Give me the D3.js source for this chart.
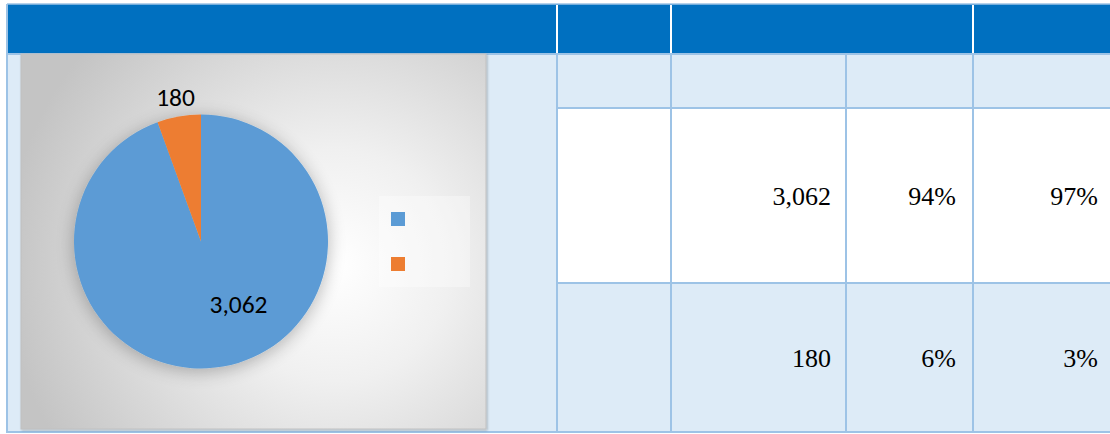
<!DOCTYPE html>
<html><head><meta charset="utf-8">
<script src="https://cdn.jsdelivr.net/npm/d3@7"></script>
<style>html,body{margin:0;padding:0;background:#fff;overflow:hidden}</style>
</head><body><svg id="c" width="1110" height="434"></svg>
<script>
// ---- data ----
const categories = ["", ""];           // legend / row labels (blank in source)
const values = [3062, 180];
const share2 = [0.97, 0.03];
const colors = ["#5B9BD5", "#ED7D31"];

const svg = d3.select("#c");
const fmtN = d3.format(",");
const fmtP = d3.format(".0%");
const total = d3.sum(values);
const SERIF = '"Liberation Serif", "Times New Roman", serif';
const SANS = 'Carlito, "Open Sans", "Liberation Sans", sans-serif';

// ---- table layout ----
const colX = [7, 557, 671, 846, 973, 1120];
const rowY = [4, 54, 108, 283, 432];
const border = "#9DC3E6", head = "#0070C0", light = "#DDEBF7";

// header
svg.append("rect").attr("x", colX[0]).attr("y", rowY[0]).attr("width", 1110 - colX[0]).attr("height", rowY[1] - rowY[0]).attr("fill", head);
svg.append("line").attr("x1", colX[0]).attr("x2", 1110).attr("y1", rowY[0]).attr("y2", rowY[0]).attr("stroke", border).attr("stroke-width", 1.5);
[colX[1], colX[2], colX[4]].forEach(x => {
  svg.append("line").attr("x1", x).attr("x2", x).attr("y1", rowY[0] + 1).attr("y2", rowY[1]).attr("stroke", "#fff").attr("stroke-width", 2);
});
// body left cell
svg.append("rect").attr("x", colX[0]).attr("y", rowY[1]).attr("width", colX[1] - colX[0]).attr("height", rowY[4] - rowY[1]).attr("fill", light);
// body right rows
const rowFill = [light, "#ffffff", light];
for (let r = 0; r < 3; r++) {
  svg.append("rect").attr("x", colX[1]).attr("y", rowY[r + 1]).attr("width", 1110 - colX[1]).attr("height", rowY[r + 2] - rowY[r + 1]).attr("fill", rowFill[r]);
}
// grid lines
const g = svg.append("g").attr("stroke", border).attr("stroke-width", 2);
g.append("line").attr("x1", colX[0]).attr("x2", 1110).attr("y1", rowY[1]).attr("y2", rowY[1]);
[rowY[2], rowY[3]].forEach(y => g.append("line").attr("x1", colX[1]).attr("x2", 1110).attr("y1", y).attr("y2", y));
g.append("line").attr("x1", colX[0]).attr("x2", 1110).attr("y1", rowY[4]).attr("y2", rowY[4]);
g.append("line").attr("x1", colX[0]).attr("x2", colX[0]).attr("y1", rowY[0]).attr("y2", rowY[4] + 1);
colX.slice(1, 5).forEach(x => g.append("line").attr("x1", x).attr("x2", x).attr("y1", rowY[1]).attr("y2", rowY[4]));

// table numbers
const tbl = svg.append("g").style("font-family", SERIF).style("font-size", "26px").attr("fill", "#000").attr("text-anchor", "end");
values.forEach((v, i) => {
  const yc = (rowY[i + 2] + rowY[i + 3]) / 2 + 9;
  tbl.append("text").style("font-family", SERIF).attr("x", colX[3] - 15).attr("y", yc).text(fmtN(v));
  tbl.append("text").style("font-family", SERIF).attr("x", colX[4] - 17).attr("y", yc).text(fmtP(v / total));
  tbl.append("text").style("font-family", SERIF).attr("x", colX[5] - 22).attr("y", yc).text(fmtP(share2[i]));
});

// ---- chart area ----
const defs = svg.append("defs");
const rg = defs.append("radialGradient").attr("id", "bg").attr("gradientUnits", "userSpaceOnUse")
  .attr("cx", 335).attr("cy", 265).attr("r", 330);
rg.append("stop").attr("offset", "0").attr("stop-color", "#ffffff");
rg.append("stop").attr("offset", "0.35").attr("stop-color", "#f0f0f0");
rg.append("stop").attr("offset", "1").attr("stop-color", "#c4c4c4");
const sh = defs.append("filter").attr("id", "sh").attr("x", "-30%").attr("y", "-30%").attr("width", "160%").attr("height", "160%");
sh.append("feGaussianBlur").attr("in", "SourceAlpha").attr("stdDeviation", 9).attr("result", "b");
sh.append("feOffset").attr("dx", 0).attr("dy", 3).attr("result", "o");
sh.append("feComponentTransfer").append("feFuncA").attr("type", "linear").attr("slope", 0.28);
const m = sh.append("feMerge"); m.append("feMergeNode"); m.append("feMergeNode").attr("in", "SourceGraphic");
const csh = defs.append("filter").attr("id", "csh").attr("x", "-5%").attr("y", "-5%").attr("width", "110%").attr("height", "110%");
csh.append("feDropShadow").attr("dx", 1).attr("dy", 1).attr("stdDeviation", 1).attr("flood-opacity", 0.25);

const ca = {x: 21, y: 54, w: 465, h: 375};
svg.append("rect").attr("x", ca.x).attr("y", ca.y).attr("width", ca.w).attr("height", ca.h)
  .attr("fill", "url(#bg)").attr("stroke", "#c0c0c0").attr("stroke-width", 1).attr("filter", "url(#csh)");

// pie
const cx = 201, cy = 241.5, R = 127;
const pie = d3.pie().sort(null).value(d => d)(values);
const arc = d3.arc().innerRadius(0).outerRadius(R);
const pg = svg.append("g").attr("transform", `translate(${cx},${cy})`);
pg.append("g").attr("filter", "url(#sh)").selectAll("path").data(pie).join("path")
  .attr("d", arc).attr("fill", (d, i) => colors[i]);

// data labels
const lab = pg.append("g").style("font-family", SANS).style("font-size", "25.5px").attr("fill", "#000").attr("text-anchor", "middle");
const labelPos = [ {ang: 149.4, rr: 0.58}, {ang: null, rr: 1.155} ];
pie.forEach((d, i) => {
  const a = labelPos[i].ang !== null ? labelPos[i].ang * Math.PI / 180 : (d.startAngle + d.endAngle) / 2;
  const r = labelPos[i].rr * R;
  lab.append("text").attr("x", r * Math.sin(a)).attr("y", -r * Math.cos(a) + 8.5).text(fmtN(d.value));
});

// legend
const lg = svg.append("g");
lg.append("rect").attr("x", 379).attr("y", 196).attr("width", 91).attr("height", 91).attr("fill", "#ffffff").attr("fill-opacity", 0.35);
categories.forEach((c, i) => {
  lg.append("rect").attr("x", 391).attr("y", 212 + i * 45).attr("width", 14).attr("height", 14).attr("fill", colors[i]);
  lg.append("text").style("font-family", SANS).style("font-size", "16px").attr("x", 412).attr("y", 224 + i * 45).text(c);
});
</script></body></html>
